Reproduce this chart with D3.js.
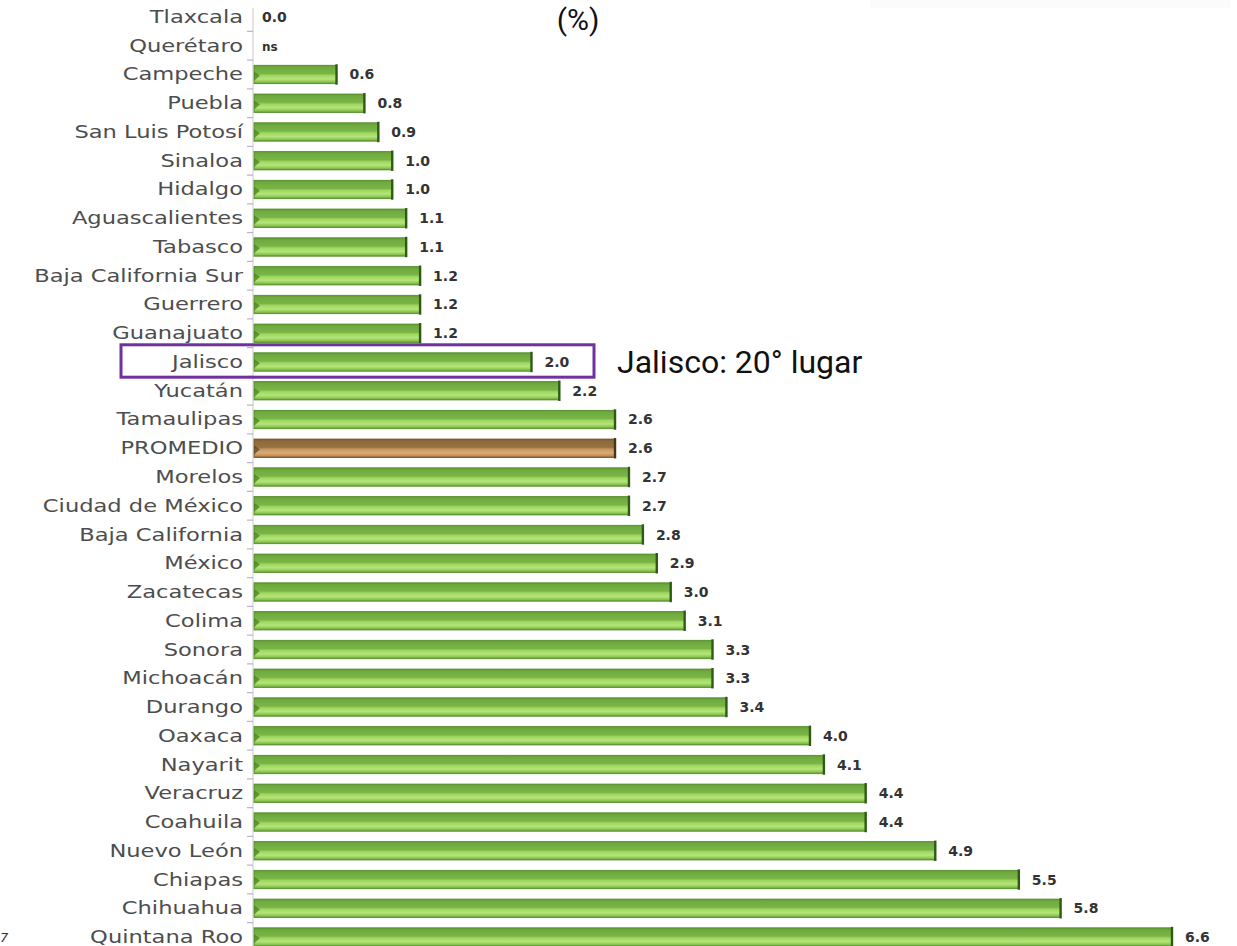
<!DOCTYPE html>
<html>
<head>
<meta charset="utf-8">
<script src="https://cdn.jsdelivr.net/npm/d3@7"></script>
<style>
  html, body { margin: 0; padding: 0; background: #ffffff; }
  svg { display: block; }
</style>
</head>
<body>
<svg id="chart" width="1237" height="946"></svg>
<script>
// ---- data ----
const categories = ["Tlaxcala","Querétaro","Campeche","Puebla","San Luis Potosí","Sinaloa","Hidalgo",
  "Aguascalientes","Tabasco","Baja California Sur","Guerrero","Guanajuato","Jalisco","Yucatán",
  "Tamaulipas","PROMEDIO","Morelos","Ciudad de México","Baja California","México","Zacatecas",
  "Colima","Sonora","Michoacán","Durango","Oaxaca","Nayarit","Veracruz","Coahuila","Nuevo León",
  "Chiapas","Chihuahua","Quintana Roo"];
const values = [0.0, null, 0.6, 0.8, 0.9, 1.0, 1.0, 1.1, 1.1, 1.2, 1.2, 1.2, 2.0, 2.2, 2.6, 2.6,
  2.7, 2.7, 2.8, 2.9, 3.0, 3.1, 3.3, 3.3, 3.4, 4.0, 4.1, 4.4, 4.4, 4.9, 5.5, 5.8, 6.6];
const valueLabels = ["0.0","ns","0.6","0.8","0.9","1.0","1.0","1.1","1.1","1.2","1.2","1.2","2.0",
  "2.2","2.6","2.6","2.7","2.7","2.8","2.9","3.0","3.1","3.3","3.3","3.4","4.0","4.1","4.4","4.4",
  "4.9","5.5","5.8","6.6"];
const averageCategory = "PROMEDIO";
const highlightCategory = "Jalisco";
const highlightText = "Jalisco: 20° lugar";
const titleText = "(%)";

const rows = categories.map((c, i) => ({ cat: c, v: values[i], label: valueLabels[i] }));

// ---- layout ----
const svg = d3.select("#chart");
const axisX = 253;
const x = d3.scaleLinear().domain([0, 6.6]).range([axisX, 1172]);
const y = d3.scaleBand().domain(categories).range([2.6, 951.4]).paddingInner(0.36).paddingOuter(0.18);

// gradients
const defs = svg.append("defs");
function grad(id, stops) {
  const g = defs.append("linearGradient").attr("id", id).attr("x1", 0).attr("y1", 0).attr("x2", 0).attr("y2", 1);
  stops.forEach(s => g.append("stop").attr("offset", s[0]).attr("stop-color", s[1]));
}
grad("gGreen", [[0, "#5e9a30"], [0.12, "#6eaa3e"], [0.45, "#79b546"], [0.55, "#9fd65f"], [0.75, "#b4e57a"], [0.9, "#8cc552"], [1, "#5f9a32"]]);
grad("gBrown", [[0, "#7a5a2c"], [0.12, "#8e6a3a"], [0.45, "#97723f"], [0.55, "#c79660"], [0.75, "#dcab74"], [0.9, "#c39058"], [1, "#7d5c2e"]]);

// faint top-right strip (as in the scanned source)
svg.append("rect").attr("x", 870).attr("y", 0).attr("width", 360).attr("height", 8).attr("fill", "#fbfbfb");

// axis line + ticks
svg.append("line").attr("x1", axisX).attr("x2", axisX).attr("y1", 8).attr("y2", 946)
  .attr("stroke", "#d2d2d2").attr("stroke-width", 1.2);
const step = y.step();
const boundaries = categories.slice(1).map(c => y(c) - (step - y.bandwidth()) / 2);
svg.append("g").selectAll("line").data(boundaries).join("line")
  .attr("x1", axisX - 6).attr("x2", axisX).attr("y1", d => d).attr("y2", d => d)
  .attr("stroke", "#b9b3cf").attr("stroke-width", 1.2);

// bars
const bars = svg.append("g");
rows.filter(d => d.v && d.v > 0).forEach(d => {
  const isAvg = d.cat === averageCategory;
  const y0 = y(d.cat), h = y.bandwidth(), w = x(d.v) - x(0);
  bars.append("rect").attr("x", x(0) + 1).attr("y", y0).attr("width", w - 1).attr("height", h)
    .attr("fill", isAvg ? "url(#gBrown)" : "url(#gGreen)")
    .attr("stroke", isAvg ? "#6f5026" : "#4f8a27").attr("stroke-width", 0.8);
  // right end dark cap
  bars.append("line").attr("x1", x(d.v)).attr("x2", x(d.v)).attr("y1", y0 - 1).attr("y2", y0 + h + 1)
    .attr("stroke", isAvg ? "#4a3418" : "#2f5a16").attr("stroke-width", 2.4);
  // left bevel
  bars.append("path")
    .attr("d", `M${x(0) + 1},${y0 + h * 0.35} L${x(0) + 7},${y0 + h * 0.55} L${x(0) + 1},${y0 + h * 0.85} Z`)
    .attr("fill", isAvg ? "#5a4020" : "#3f7a1c").attr("opacity", 0.7);
});

// value labels
svg.append("g").selectAll("text").data(rows).join("text")
  .attr("x", d => (d.v ? x(d.v) : x(0)) + (d.v ? 13 : 9))
  .attr("y", d => y(d.cat) + y.bandwidth() / 2 + 5)
  .attr("font-family", "'DejaVu Sans', sans-serif").attr("font-weight", "bold")
  .attr("font-size", d => d.label === "ns" ? 12 : 14)
  .attr("fill", "#333333")
  .text(d => d.label);

// category labels (wide geometric look via horizontal stretch)
svg.append("g").selectAll("text").data(rows).join("text")
  .attr("transform", d => `translate(243,${y(d.cat) + y.bandwidth() / 2 + 6}) scale(1.29,1)`)
  .attr("text-anchor", "end")
  .attr("font-family", "'DejaVu Sans', sans-serif").attr("font-size", 17.5)
  .attr("fill", "#4d4d4d")
  .text(d => d.cat);

// title
svg.append("text").attr("x", 578).attr("y", 30).attr("text-anchor", "middle")
  .attr("font-family", "Roboto, sans-serif").attr("font-size", 30).attr("fill", "#111")
  .text(titleText);

// highlight box + annotation
const hy = y(highlightCategory);
svg.append("rect").attr("x", 121).attr("y", hy - 8).attr("width", 473).attr("height", y.bandwidth() + 14)
  .attr("fill", "none").attr("stroke", "#7030a0").attr("stroke-width", 3);
svg.append("text").attr("x", 617).attr("y", hy + y.bandwidth() / 2 + 11)
  .attr("font-family", "Roboto, sans-serif").attr("font-size", 32).attr("fill", "#111")
  .text(highlightText);

// stray footnote fragment at bottom-left
svg.append("text").attr("x", 0).attr("y", 942).attr("font-family", "'DejaVu Sans', sans-serif")
  .attr("font-size", 13).attr("font-style", "italic").attr("fill", "#333").text("7");
</script>
</body>
</html>
